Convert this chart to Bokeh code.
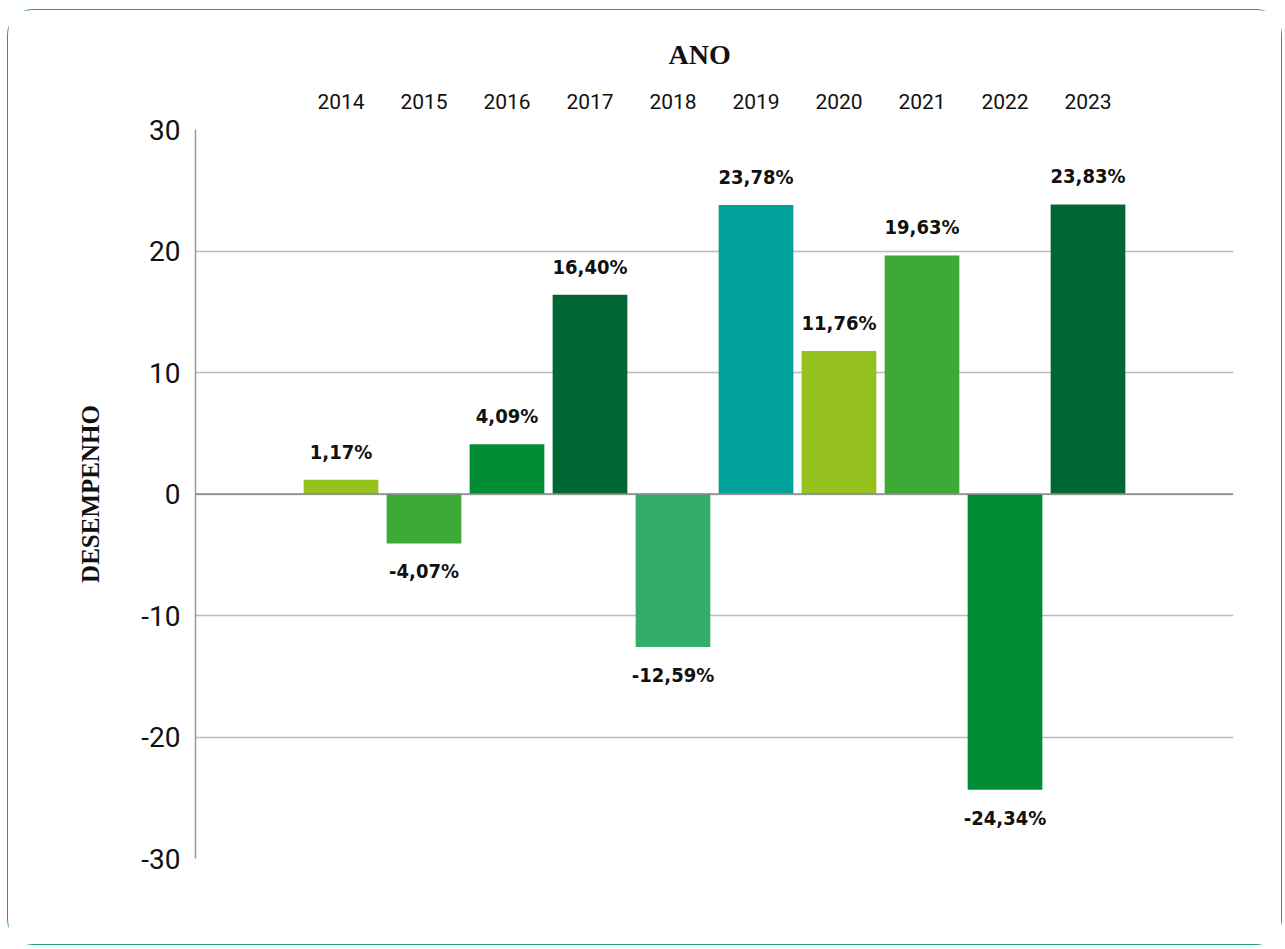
from bokeh.plotting import figure
from bokeh.models import Range1d, FixedTicker, ColumnDataSource, Span, Title
from bokeh.core.properties import value
from bokeh.embed import file_html
from bokeh.resources import INLINE

years = ["2014", "2015", "2016", "2017", "2018", "2019", "2020", "2021", "2022", "2023"]
returns = [1.17, -4.07, 4.09, 16.40, -12.59, 23.78, 11.76, 19.63, -24.34, 23.83]
colors = ["#95C11F", "#3DAA35", "#008D36", "#006633", "#33AE6A",
          "#00A19A", "#95C11F", "#3DAA35", "#008D36", "#006633"]
y_ticks = [-30, -20, -10, 0, 10, 20, 30]

xs = list(range(len(years)))
labels = [f"{v:.2f}".replace(".", ",") + "%" for v in returns]
offsets = [-28 if v >= 0 else 28 for v in returns]

src = ColumnDataSource(dict(x=xs, top=returns, color=colors, label=labels, off=offsets))

p = figure(width=1275, height=936, output_backend="svg", toolbar_location=None,
           x_range=Range1d(-1.753, 10.753), y_range=Range1d(-30, 30),
           x_axis_location="above",
           min_border_left=187, min_border_right=50, min_border_top=119, min_border_bottom=88)
p.styles = {"border": "1.5px solid #22A06B", "border-radius": "26px",
            "margin-left": "7px", "margin-top": "9px"}
p.outline_line_color = None
p.background_fill_color = "white"
p.border_fill_color = "white"

p.vbar(x="x", top="top", bottom=0, width=0.9, fill_color="color", line_color=None, source=src)
p.text(x="x", y="top", text="label", y_offset="off", source=src,
       text_align="center", text_baseline="middle",
       text_font=value("DejaVu Sans Condensed"),
       text_font_style="bold", text_font_size="20px", text_color="#111111")

p.add_layout(Span(location=0, dimension="width", line_color="#8a8a8a", line_width=1.5))

# y axis
p.yaxis.ticker = FixedTicker(ticks=y_ticks)
p.yaxis.major_label_overrides = {t: str(t) for t in y_ticks}
p.yaxis.major_tick_line_color = None
p.yaxis.major_tick_out = 0
p.yaxis.major_tick_in = 0
p.yaxis.minor_tick_line_color = None
p.yaxis.axis_line_color = "#999999"
p.yaxis.axis_line_width = 1.5
p.yaxis.major_label_text_font = "Roboto"
p.yaxis.major_label_text_font_size = "28px"
p.yaxis.major_label_text_color = "#111111"
p.yaxis.major_label_standoff = 15
p.yaxis.axis_label = "DESEMPENHO"
p.yaxis.axis_label_text_font = "Liberation Serif"
p.yaxis.axis_label_text_font_style = "bold"
p.yaxis.axis_label_text_font_size = "25px"
p.yaxis.axis_label_text_color = "#111111"
p.yaxis.axis_label_standoff = 34

# x axis (top)
p.xaxis.ticker = FixedTicker(ticks=xs)
p.xaxis.major_label_overrides = {i: y for i, y in zip(xs, years)}
p.xaxis.major_tick_line_color = None
p.xaxis.major_tick_out = 0
p.xaxis.major_tick_in = 0
p.xaxis.minor_tick_line_color = None
p.xaxis.axis_line_color = None
p.xaxis.major_label_text_font = "Roboto"
p.xaxis.major_label_text_font_size = "21px"
p.xaxis.major_label_text_color = "#111111"
p.xaxis.major_label_standoff = 21

p.xgrid.grid_line_color = None
p.ygrid.ticker = FixedTicker(ticks=y_ticks)
p.ygrid.grid_line_color = "#BBBBBB"
p.ygrid.grid_line_width = 1.5

t = Title(text="ANO", align="left", offset=473, standoff=42,
          text_font="Liberation Serif", text_font_style="bold",
          text_font_size="28px", text_color="#111111")
p.add_layout(t, "above")

open("out.html", "w").write(file_html(p, INLINE))
